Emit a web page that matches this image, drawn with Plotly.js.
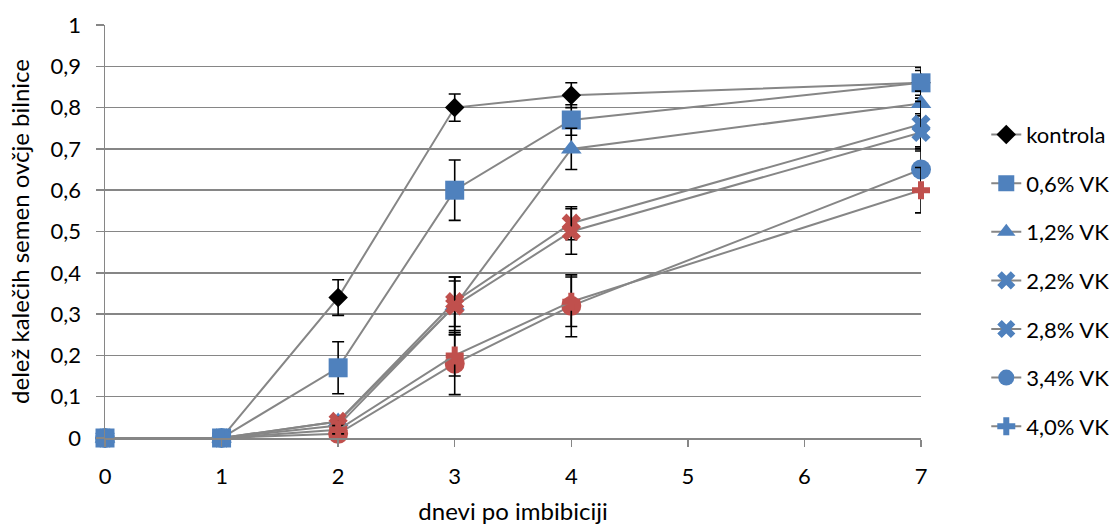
<!DOCTYPE html>
<html>
<head>
<meta charset="utf-8">
<script src="https://cdn.plot.ly/plotly-3.0.1.min.js"></script>
<style>
  html, body { margin: 0; padding: 0; background: #ffffff; }
  #chart { width: 1120px; height: 525px; }
</style>
</head>
<body>
<div id="chart"></div>
<script>
// Days after imbibition
const days = [0, 1, 2, 3, 4, 7];

// Share of germinated seeds per treatment
const kontrola = [0, 0, 0.34, 0.80, 0.83, 0.86];
const vk06 = [0, 0, 0.17, 0.60, 0.77, 0.86];
const vk12 = [0, 0, 0.04, 0.32, 0.70, 0.81];
const vk22 = [0, 0, 0.04, 0.33, 0.52, 0.76];
const vk28 = [0, 0, 0.03, 0.32, 0.50, 0.74];
const vk34 = [0, 0, 0.01, 0.18, 0.32, 0.65];
const vk40 = [0, 0, 0.02, 0.20, 0.33, 0.60];

// Standard errors
const errKontrola = [0, 0, 0.043, 0.033, 0.03, 0.03];
const err06 = [0, 0, 0.063, 0.073, 0.037, 0.037];
const err12 = [0, 0, 0.01, 0.06, 0.05, 0.03];
const err22 = [0, 0, 0.01, 0.06, 0.04, 0.055];
const err28 = [0, 0, 0.01, 0.07, 0.055, 0.045];
const err34 = [0, 0, 0.01, 0.075, 0.075, 0.05];
const err40 = [0, 0, 0.01, 0.05, 0.06, 0.055];

const seriesNames = ['kontrola', '0,6% VK', '1,2% VK', '2,2% VK', '2,8% VK', '3,4% VK', '4,0% VK'];

const BLUE = '#4F81BD';
const RED = '#C0504D';
const GREY = '#868686';
const BLACK = '#000000';
const FONT = 'Lato, "Open Sans", sans-serif';

// Colour every point blue except the listed days, which are red
function pointColours(redDays) {
  return days.map(d => (redDays.indexOf(d) >= 0 ? RED : BLUE));
}

function series(name, y, err, symbol, size, colour) {
  return {
    type: 'scatter',
    mode: 'lines+markers',
    name: name,
    legendgroup: name,
    x: days,
    y: y,
    line: { color: GREY, width: 2 },
    marker: { symbol: symbol, size: size, color: colour, line: { width: 0 } },
    error_y: { type: 'data', array: err, visible: true, color: BLACK, thickness: 1.6, width: 6 },
    cliponaxis: false
  };
}

const traces = [
  series(seriesNames[0], kontrola, errKontrola, 'diamond', 15, BLACK),
  series(seriesNames[1], vk06, err06, 'square', 19, BLUE),
  series(seriesNames[2], vk12, err12, 'triangle-up', 18, BLUE),
  series(seriesNames[3], vk22, err22, 'x', 17, pointColours([2, 3, 4])),
  series(seriesNames[4], vk28, err28, 'x', 17, pointColours([2, 3, 4])),
  series(seriesNames[5], vk34, err34, 'circle', 20, pointColours([2, 3, 4])),
  series(seriesNames[6], vk40, err40, 'cross', 15, pointColours([2, 3, 4, 7]))
];

const layout = {
  width: 1120,
  height: 525,
  margin: { l: 105, r: 199, t: 25, b: 87, autoexpand: false },
  paper_bgcolor: '#ffffff',
  plot_bgcolor: '#ffffff',
  font: { family: FONT, size: 22, color: BLACK },
  showlegend: true,
  legend: {
    x: 1.08,
    xanchor: 'left',
    y: 0.785,
    yanchor: 'top',
    traceorder: 'grouped',
    tracegroupgap: 17,
    font: { family: FONT, size: 22, color: BLACK },
    bgcolor: 'rgba(0,0,0,0)',
    itemsizing: 'trace'
  },
  xaxis: {
    range: [0, 7],
    tickmode: 'array',
    tickvals: [0, 1, 2, 3, 4, 5, 6, 7],
    ticktext: ['0', '1', '2', '3', '4', '5', '6', '7'],
    showgrid: false,
    zeroline: false,
    showline: true,
    linecolor: GREY,
    linewidth: 1.5,
    ticks: 'outside',
    ticklen: 7,
    tickwidth: 1.5,
    tickcolor: GREY,
    tickfont: { family: FONT, size: 22, color: BLACK },
    ticklabelstandoff: 11,
    title: { text: 'dnevi po imbibiciji', font: { family: FONT, size: 24, color: BLACK }, standoff: 16 },
    fixedrange: true
  },
  yaxis: {
    range: [0, 1],
    tickmode: 'array',
    tickvals: [0, 0.1, 0.2, 0.3, 0.4, 0.5, 0.6, 0.7, 0.8, 0.9, 1],
    ticktext: ['0', '0,1', '0,2', '0,3', '0,4', '0,5', '0,6', '0,7', '0,8', '0,9', '1'],
    showgrid: true,
    gridcolor: GREY,
    gridwidth: 1.5,
    zeroline: false,
    showline: true,
    linecolor: GREY,
    linewidth: 1.5,
    ticks: 'outside',
    ticklen: 8,
    tickwidth: 1.5,
    tickcolor: GREY,
    tickfont: { family: FONT, size: 22, color: BLACK },
    ticklabelstandoff: 10,
    title: { text: 'delež kalečih semen ovčje bilnice', font: { family: FONT, size: 24, color: BLACK }, standoff: 14 },
    fixedrange: true
  }
};

Plotly.newPlot('chart', traces, layout, { displayModeBar: false, staticPlot: true });
</script>
</body>
</html>
